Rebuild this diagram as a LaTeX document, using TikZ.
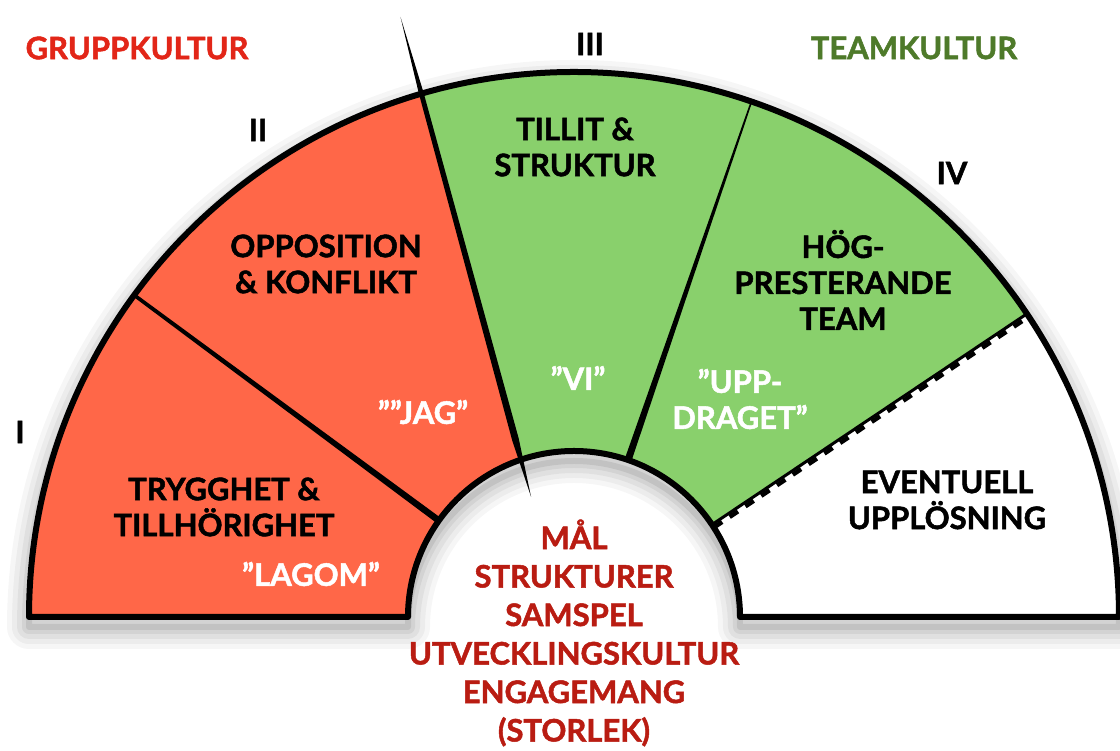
\documentclass[tikz,border=0pt]{standalone}
\usepackage{fontspec}
\setmainfont{Lato}[BoldFeatures={FakeBold=1.6}]
\usetikzlibrary{calc}
\definecolor{redfill}{RGB}{255,103,72}
\definecolor{greenfill}{RGB}{137,208,108}
\definecolor{titlered}{RGB}{226,38,24}
\definecolor{titlegreen}{RGB}{78,122,42}
\definecolor{centerred}{RGB}{185,28,18}
\begin{document}
\begin{tikzpicture}[x=1pt,y=1pt,
  lbl/.style={font=\fontsize{31}{36}\selectfont\bfseries, align=center, inner sep=0pt, text=black},
  wlbl/.style={lbl, text=white},
  ctr/.style={font=\fontsize{31}{38.5}\selectfont\bfseries, align=center, inner sep=0pt, text=centerred},
  outline/.style={line width=6pt, line join=round, black}]
\useasboundingbox (0,0) rectangle (1120,751);
\coordinate (C) at (574,134);
\def\R{545}
\def\r{166}
% shadow
\foreach \w/\o in {44/0.035, 34/0.04, 24/0.05, 14/0.06, 6/0.08}{
  \draw[line width=\w pt, black, opacity=\o, line join=round]
    ($(C)+(-545,-10)$) arc[start angle=180,end angle=0,radius=\R]
    -- ($(C)+(166,-10)$) arc[start angle=0,end angle=180,radius=\r] -- cycle;
}
% fills
\fill[redfill] ($(C)+(180:\R)$) arc[start angle=180,end angle=106.25,radius=\R]
  -- ($(C)+(108.66:\r)$) arc[start angle=108.66,end angle=180,radius=\r] -- cycle;
\fill[greenfill] ($(C)+(106.25:\R)$) arc[start angle=106.25,end angle=33.8,radius=\R]
  -- ($(C)+(33.8:\r)$) arc[start angle=33.8,end angle=108.66,radius=\r] -- cycle;
\fill[white] ($(C)+(33.8:\R)$) arc[start angle=33.8,end angle=0,radius=\R]
  -- ($(C)+(0:\r)$) arc[start angle=0,end angle=33.8,radius=\r] -- cycle;
% divider I/II
\coordinate (o1) at ($(C)+(143.8:\R)$);
\coordinate (i1) at ($(C)+(144.5:\r)$);
\fill ($(o1)!1.8pt!90:(i1)$) -- ($(i1)!3.3pt!-90:(o1)$) -- ($(i1)!3.3pt!90:(o1)$) -- ($(o1)!1.8pt!-90:(i1)$) -- cycle;
% divider II/III
\coordinate (t2) at (400.5,734);
\coordinate (b2) at (531.1,254);
\coordinate (m1) at ($(t2)!0.16!(b2)$);
\coordinate (m2) at ($(t2)!0.88!(b2)$);
\fill (t2) -- ($(m1)!2.4pt!90:(b2)$) -- ($(m2)!3.4pt!90:(b2)$) -- (b2)
  -- ($(m2)!3.4pt!-90:(b2)$) -- ($(m1)!2.4pt!-90:(b2)$) -- cycle;
% divider III/IV
\coordinate (o3) at ($(C)+(71:\R)$);
\coordinate (i3) at ($(C)+(71:\r)$);
\fill ($(o3)!0.8pt!90:(i3)$) -- ($(i3)!3.5pt!-90:(o3)$) -- ($(i3)!3.5pt!90:(o3)$) -- ($(o3)!0.8pt!-90:(i3)$) -- cycle;
% divider IV/V
\coordinate (o4) at ($(C)+(33.8:\R)$);
\coordinate (i4) at ($(C)+(33.8:\r)$);
\draw[line width=3pt] (i4) -- (o4);
\draw[line width=4.5pt, dash pattern=on 10pt off 9pt]
  ($(i4)+(-56.2:3.4)$) -- ($(o4)+(-56.2:3.4)$);
% outline
\draw[outline] ($(C)+(180:\R)$) arc[start angle=180,end angle=0,radius=\R]
  -- ($(C)+(0:\r)$) arc[start angle=0,end angle=180,radius=\r] -- cycle;
% texts
\node[lbl, text=titlered] (gk) at (137,703) {GRUPPKULTUR};
\node[lbl, text=titlegreen] (tk) at (914,703) {TEAMKULTUR};
\node[lbl] (n1) at (20,319) {I};
\node[lbl] (n2) at (258,621) {II};
\node[lbl] (n3) at (590,707) {III};
\node[lbl] (n4) at (952,578) {IV};
\node[lbl] (opp) at (326,487) {OPPOSITION\\\& KONFLIKT};
\node[lbl] (til) at (575,604) {TILLIT \&\\STRUKTUR};
\node[lbl] (hog) at (843,471) {HÖG-\\PRESTERANDE\\TEAM};
\node[lbl] (try) at (224,244) {TRYGGHET \&\\TILLHÖRIGHET};
\node[lbl] (eve) at (947,251) {EVENTUELL\\UPPLÖSNING};
\node[wlbl] (lag) at (311,177) {”LAGOM”};
\node[wlbl] (jag) at (423,339) {””JAG”};
\node[wlbl] (vi) at (578,373) {”VI”};
\node[wlbl] (upp) at (740,352) {”UPP-\\DRAGET”};
\node[ctr] (mal) at (574,118) {MÅL\\STRUKTURER\\SAMSPEL\\UTVECKLINGSKULTUR\\ENGAGEMANG\\(STORLEK)};
\end{tikzpicture}
\end{document}
